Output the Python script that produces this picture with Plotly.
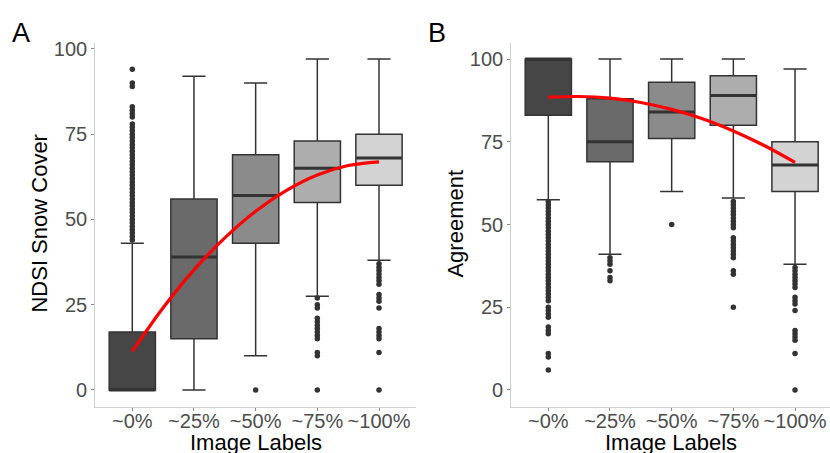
import plotly.graph_objects as go

W, H = 830, 453

categories = ["~0%", "~25%", "~50%", "~75%", "~100%"]
fills = ["#464646", "#6A6A6A", "#8B8B8B", "#ADADAD", "#D3D3D3"]

# Panel A: NDSI Snow Cover
a_q1 = [0, 15, 43, 55, 60]
a_med = [0, 39, 57, 65, 68]
a_q3 = [17, 56, 69, 73, 75]
a_low = [0, 0, 10, 27.5, 38]
a_high = [43, 92, 90, 97, 97]
a_out = [
    list(range(44, 75)) + [75, 76, 77, 78, 80, 81, 82, 83, 89, 90, 94],
    [],
    [0],
    [27, 25, 24, 21, 20, 19, 18, 17, 16, 15, 11, 10, 0],
    [37, 36, 35, 34, 33, 32, 31, 28, 27, 26, 24, 18, 17, 16, 15, 11, 0],
]
a_curve_x = [0, 0.5, 1, 1.5, 2, 2.5, 3, 3.5, 4]
a_curve_y = [11.3, 24.1, 35.2, 44.6, 52.4, 58.5, 63.0, 65.8, 66.9]

# Panel B: Agreement
b_q1 = [83, 69, 76, 80, 60]
b_med = [100, 75, 84, 89, 68]
b_q3 = [100, 88, 93, 95, 75]
b_low = [57.5, 41, 60, 58, 38]
b_high = [100, 100, 100, 100, 97]
b_out = [
    list(range(27, 58)) + [25, 24, 23, 22, 19, 18, 17, 11, 10, 6],
    [40, 39, 38, 36, 34, 33],
    [50],
    [57, 56, 55, 54, 53, 52, 51, 50, 49, 46, 45, 44, 43, 42, 41, 40, 36, 35, 25],
    [37, 36, 35, 34, 33, 32, 31, 28, 27, 26, 24, 18, 17, 16, 15, 11, 0],
]
b_curve_x = [0, 0.5, 1, 1.5, 2, 2.5, 3, 3.5, 4]
b_curve_y = [88.5, 88.7, 88.2, 86.9, 84.8, 82.0, 78.3, 73.9, 68.8]

fig = go.Figure()
BOXW = 0.75
DARK = "#333333"


def add_panel(xa, ya, q1, med, q3, low, high, outs, cx, cy):
    for i in range(len(categories)):
        fig.add_trace(go.Box(
            x=[i], q1=[q1[i]], median=[med[i]], q3=[q3[i]],
            lowerfence=[low[i]], upperfence=[high[i]],
            width=BOXW, fillcolor=fills[i],
            line=dict(color=DARK, width=1.5),
            boxpoints=False, showlegend=False, xaxis=xa, yaxis=ya,
        ))
        # thicker median line
        fig.add_trace(go.Scatter(
            x=[i - BOXW / 2, i + BOXW / 2], y=[med[i], med[i]],
            mode="lines", line=dict(color=DARK, width=3),
            showlegend=False, xaxis=xa, yaxis=ya, hoverinfo="skip",
        ))
        if outs[i]:
            fig.add_trace(go.Scatter(
                x=[i] * len(outs[i]), y=outs[i], mode="markers",
                marker=dict(color=DARK, size=5.5),
                showlegend=False, xaxis=xa, yaxis=ya,
            ))
    fig.add_trace(go.Scatter(
        x=cx, y=cy, mode="lines",
        line=dict(color="#FF0000", width=3.2, shape="spline", smoothing=1.0),
        showlegend=False, xaxis=xa, yaxis=ya,
    ))


add_panel("x", "y", a_q1, a_med, a_q3, a_low, a_high, a_out, a_curve_x, a_curve_y)
add_panel("x2", "y2", b_q1, b_med, b_q3, b_low, b_high, b_out, b_curve_x, b_curve_y)

ydom = [(H - 406) / H, (H - 38) / H]
tickfont = dict(family="Liberation Sans, Arial, sans-serif", size=20, color="#4D4D4D")
axis_common = dict(
    showgrid=False, zeroline=False, showline=True, linecolor="#D0D0D0", linewidth=1.2,
    ticks="outside", ticklen=3, tickwidth=1, tickcolor="#8A8A8A", tickfont=tickfont,
)

fig.update_layout(
    width=W, height=H, margin=dict(l=0, r=0, t=0, b=0),
    plot_bgcolor="white", paper_bgcolor="white",
    xaxis=dict(domain=[95.3 / W, 416 / W], range=[-0.6, 4.6], tickvals=list(range(5)),
               ticktext=categories, anchor="y", ticklabelstandoff=-7, **axis_common),
    yaxis=dict(domain=ydom, range=[-4.85, 101.85], tickvals=[0, 25, 50, 75, 100],
               anchor="x", **axis_common),
    xaxis2=dict(domain=[511.3 / W, 1.0], range=[-0.6, 4.567], tickvals=list(range(5)),
                ticktext=categories, anchor="y2", ticklabelstandoff=-7, **axis_common),
    yaxis2=dict(domain=ydom, range=[-5, 105], tickvals=[0, 25, 50, 75, 100],
                anchor="x2", **axis_common),
)

titlefont = dict(family="Liberation Sans, Arial, sans-serif", size=22, color="#000000")
labfont = dict(family="Liberation Sans, Arial, sans-serif", size=27, color="#000000")


def ann(text, px, py, font, angle=0):
    fig.add_annotation(text=text, x=px / W, y=1 - py / H, xref="paper", yref="paper",
                       showarrow=False, font=font, textangle=angle,
                       xanchor="center", yanchor="middle")


ann("A", 21, 28, labfont)
ann("B", 437, 28, labfont)
ann("NDSI Snow Cover", 40, 221, titlefont, -90)
ann("Agreement", 456, 221, titlefont, -90)
ann("Image Labels", 255.7, 442, titlefont)
ann("Image Labels", 671, 442, titlefont)

fig.write_html("out.html")
